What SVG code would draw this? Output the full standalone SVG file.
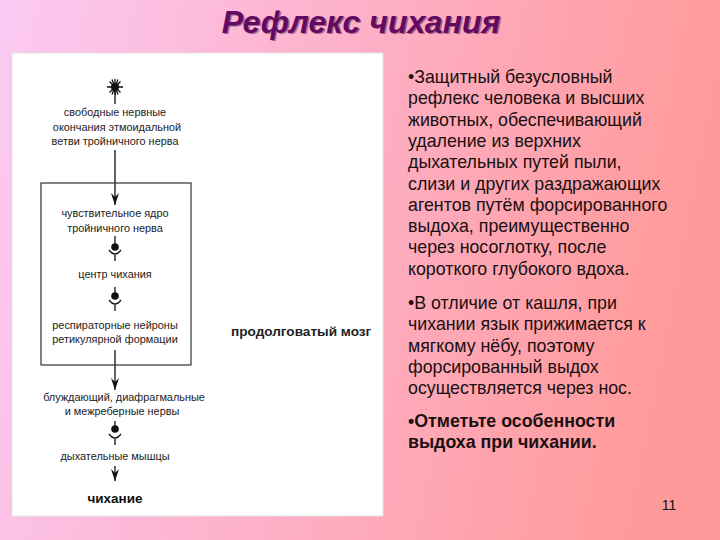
<svg xmlns="http://www.w3.org/2000/svg" width="720" height="540" viewBox="0 0 720 540">
<defs>
<linearGradient id="bg" x1="0" y1="0" x2="1" y2="0.15">
<stop offset="0" stop-color="#fbcaf3"/>
<stop offset="0.45" stop-color="#fdb2cc"/>
<stop offset="1" stop-color="#ff9a9a"/>
</linearGradient>
<marker id="ah" viewBox="0 0 12 8" markerWidth="12" markerHeight="8" refX="12" refY="4" orient="auto" markerUnits="userSpaceOnUse">
<path d="M0,0 L12,4 L0,8 L4,4 Z" fill="#111"/>
</marker>
<style>
.d{font-family:"Liberation Sans",Arial,sans-serif;font-size:10.9px;fill:#222;text-anchor:middle}
.r{font-family:"Liberation Sans",Arial,sans-serif;font-size:17.8px;fill:#1a1010}
.ln{stroke:#111;stroke-width:1.3;fill:none}
.dot{fill:#111}
</style>
</defs>
<rect width="720" height="540" fill="url(#bg)"/>
<g id="title">
<text x="362.5" y="34" font-family="'Liberation Sans',Arial,sans-serif" font-size="32" font-weight="bold" font-style="italic" text-anchor="middle" fill="#3a0a3a" opacity="0.45">Рефлекс чихания</text>
<text x="361" y="32.5" font-family="'Liberation Sans',Arial,sans-serif" font-size="32" font-weight="bold" font-style="italic" text-anchor="middle" fill="#620a62">Рефлекс чихания</text>
</g>
<rect x="12" y="53" width="371" height="463" fill="#fff" stroke="#e4e4e4" stroke-width="1"/>
<g id="connectors">
<line class="ln" x1="115" y1="91" x2="115" y2="104"/>
<line class="ln" x1="115" y1="150" x2="115" y2="205" marker-end="url(#ah)"/>
<line class="ln" x1="115" y1="236" x2="115" y2="247"/>
<path class="ln" d="M109,250 Q115,258 121,250 M115,255 L115,261"/>
<line class="ln" x1="115" y1="287" x2="115" y2="296"/>
<path class="ln" d="M109,300 Q115,308 121,300 M115,305 L115,311"/>
<line class="ln" x1="115" y1="350" x2="115" y2="390" marker-end="url(#ah)"/>
<line class="ln" x1="115" y1="421" x2="115" y2="429"/>
<path class="ln" d="M109,434 Q115,442 121,434 M115,439 L115,445"/>
<line class="ln" x1="115" y1="466" x2="115" y2="481" marker-end="url(#ah)"/>
</g>
<g id="receptor">
<circle class="dot" cx="115" cy="87" r="4"/>
<path class="ln" stroke-width="1.2" d="M115,79 L115,95 M107,87 L123,87 M109.5,81.5 L120.5,92.5 M120.5,81.5 L109.5,92.5 M112,79.5 L118,94.5 M118,79.5 L112,94.5"/>
</g>
<g id="n-endings">
<text class="d" x="115" y="116">свободные нервные</text>
<text class="d" x="117" y="131">окончания этмоидальной</text>
<text class="d" x="115" y="145">ветви тройничного нерва</text>
</g>
<g id="medulla">
<rect x="41" y="183" width="150" height="182" fill="none" stroke="#333" stroke-width="1.2"/>
<text x="231" y="336" font-family="'Liberation Sans',Arial,sans-serif" font-size="13.6" font-weight="bold" fill="#222">продолговатый мозг</text>
</g>
<g id="n-sensory">
<text class="d" x="115" y="217">чувствительное ядро</text>
<text class="d" x="115" y="232">тройничного нерва</text>
</g>
<g id="syn1"><circle class="dot" cx="115" cy="247" r="3.8"/></g>
<g id="n-center"><text class="d" x="115" y="278">центр чихания</text></g>
<g id="syn2"><circle class="dot" cx="115" cy="296" r="3.8"/></g>
<g id="n-resp">
<text class="d" x="115" y="329">респираторные нейроны</text>
<text class="d" x="115" y="343">ретикулярной формации</text>
</g>
<g id="n-nerves">
<text class="d" x="124" y="401">блуждающий, диафрагмальные</text>
<text class="d" x="122" y="415">и межреберные нервы</text>
</g>
<g id="syn3"><circle class="dot" cx="115" cy="429" r="3.8"/></g>
<g id="n-muscles"><text class="d" x="115" y="460">дыхательные мышцы</text></g>
<g id="n-sneeze"><text x="115" y="503" font-family="'Liberation Sans',Arial,sans-serif" font-size="13.5" font-weight="bold" fill="#111" text-anchor="middle">чихание</text></g>
<g id="text-right">
<text class="r" x="408" y="83">•Защитный безусловный</text>
<text class="r" x="408" y="104.3">рефлекс человека и высших</text>
<text class="r" x="408" y="125.6">животных, обеспечивающий</text>
<text class="r" x="408" y="146.9">удаление из верхних</text>
<text class="r" x="408" y="168.2">дыхательных путей пыли,</text>
<text class="r" x="408" y="189.5">слизи и других раздражающих</text>
<text class="r" x="408" y="210.8">агентов путём форсированного</text>
<text class="r" x="408" y="232.1">выдоха, преимущественно</text>
<text class="r" x="408" y="253.4">через носоглотку, после</text>
<text class="r" x="408" y="274.7">короткого глубокого вдоха.</text>
<text class="r" x="408" y="309">•В отличие от кашля, при</text>
<text class="r" x="408" y="330.3">чихании язык прижимается к</text>
<text class="r" x="408" y="351.6">мягкому нёбу, поэтому</text>
<text class="r" x="408" y="372.9">форсированный выдох</text>
<text class="r" x="408" y="394.2">осуществляется через нос.</text>
<text class="r" x="408" y="427" font-weight="bold">•Отметьте особенности</text>
<text class="r" x="408" y="448.3" font-weight="bold">выдоха при чихании.</text>
</g>
<g id="page"><text x="669" y="510" font-family="'Liberation Sans',Arial,sans-serif" font-size="14" fill="#111" text-anchor="middle">11</text></g>
</svg>
